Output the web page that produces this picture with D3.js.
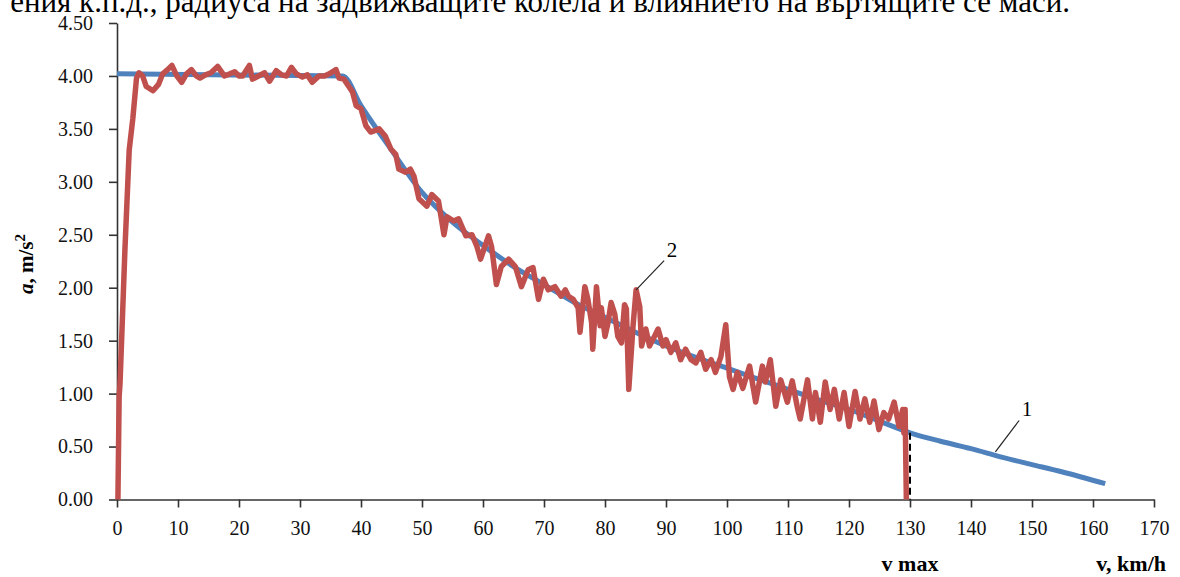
<!DOCTYPE html>
<html>
<head>
<meta charset="utf-8">
<script src="https://cdn.jsdelivr.net/npm/d3@7"></script>
<style>
  body { margin: 0; background: #fff; }
  svg { display: block; }
</style>
</head>
<body>
<div id="chart"></div>
<script>
// curve 1 - calculated acceleration
const calcV = [0, 37, 40, 45, 50, 55, 60, 65, 70, 75, 80, 85, 90, 95, 100, 105, 110, 115, 120, 125, 130, 135, 140, 145, 150, 155, 162];
const calcA = [4.02, 4.00, 3.72, 3.30, 2.90, 2.62, 2.40, 2.20, 2.03, 1.86, 1.72, 1.58, 1.45, 1.34, 1.24, 1.14, 1.04, 0.94, 0.85, 0.74, 0.63, 0.55, 0.48, 0.40, 0.33, 0.26, 0.15];

// curve 2 - measured acceleration
const measV = [0.15, 0.35, 0.5, 1.3, 2.0, 2.6, 3.2, 3.6, 4.2, 4.8, 5.9, 6.8, 7.5, 8.3, 9.0, 9.8, 10.6, 11.4, 12.2, 13.0,
  13.6, 14.5, 15.4, 16.5, 17.6, 18.5, 19.3, 20.0, 20.6, 21.7, 22.2, 23.2, 24.2, 25.0, 26.1, 27.0, 27.8, 28.6, 29.4, 30.4,
  31.2, 32.0, 33.1, 34.0, 34.8, 35.9, 36.4, 37.2, 38.0, 38.6, 39.2, 40.0, 40.8, 41.6, 43.0, 44.0, 44.9, 45.7, 46.2, 47.3,
  48.1, 48.7, 49.5, 50.8, 51.6, 52.7, 53.6, 54.1, 55.2, 56.0, 57.2, 58.2, 59.0, 59.6, 60.9, 61.4, 62.2, 63.0, 64.2, 65.3,
  66.3, 67.4, 68.2, 69.1, 69.9, 70.7, 71.8, 72.8, 73.5, 74.0, 74.8, 75.6, 75.9, 76.7, 77.2, 77.8, 78.0, 78.6, 79.2, 79.4,
  80.0, 80.5, 81.0, 81.6, 82.1, 82.7, 83.2, 83.5, 83.9, 84.6, 85.1, 85.7, 86.0, 86.7, 87.3, 88.1, 88.7, 89.5, 90.0, 90.8,
  91.6, 92.4, 93.2, 94.1, 94.9, 95.7, 96.5, 97.4, 98.1, 99.0, 99.8, 100.4, 101.0, 101.7, 102.6, 103.7, 104.7, 105.8, 106.3, 107.1,
  108.0, 108.8, 109.9, 110.7, 111.5, 112.0, 113.2, 114.0, 114.5, 115.3, 116.1, 116.9, 117.6, 118.4, 119.2, 120.0, 121.0, 121.8, 122.6, 123.4,
  124.1, 124.9, 125.7, 126.5, 127.4, 128.2, 128.8, 129.0, 129.2, 129.4];
const measA = [0, 0.97, 1.10, 2.36, 3.30, 3.60, 3.98, 4.03, 4.00, 3.90, 3.86, 3.92, 4.02, 4.06, 4.10, 4.00, 3.94, 4.02, 4.06, 4.00,
  3.98, 4.01, 4.03, 4.09, 4.00, 4.02, 4.04, 4.00, 4.00, 4.10, 3.97, 4.00, 4.03, 3.95, 4.05, 4.01, 4.00, 4.08, 4.02, 3.99,
  4.01, 3.94, 4.00, 4.00, 4.02, 4.06, 3.98, 3.97, 3.90, 3.85, 3.72, 3.69, 3.53, 3.47, 3.50, 3.43, 3.31, 3.26, 3.12, 3.09,
  3.12, 3.05, 2.84, 2.77, 2.88, 2.82, 2.50, 2.67, 2.63, 2.65, 2.49, 2.50, 2.39, 2.27, 2.49, 2.39, 2.03, 2.20, 2.27, 2.20,
  2.01, 2.17, 2.19, 1.89, 2.08, 1.98, 2.01, 1.92, 1.98, 1.92, 1.89, 1.81, 1.58, 2.01, 1.89, 1.67, 1.42, 2.01, 1.64, 1.81,
  1.54, 1.67, 1.86, 1.75, 1.54, 1.48, 1.84, 1.80, 1.04, 1.64, 1.98, 1.82, 1.45, 1.61, 1.45, 1.54, 1.61, 1.45, 1.51, 1.39,
  1.48, 1.32, 1.42, 1.32, 1.29, 1.39, 1.23, 1.32, 1.20, 1.35, 1.65, 1.16, 1.04, 1.20, 1.05, 1.26, 0.92, 1.26, 1.11, 1.32,
  0.88, 1.13, 0.92, 1.12, 0.88, 0.76, 1.13, 0.76, 1.01, 0.73, 1.11, 0.85, 1.04, 0.76, 1.01, 0.69, 1.02, 0.76, 0.95, 0.73,
  0.93, 0.66, 0.82, 0.76, 0.92, 0.69, 0.85, 0.63, 0.85, 0];

const xTicks = d3.range(0, 171, 10);
const yTicks = [0, 0.5, 1, 1.5, 2, 2.5, 3, 3.5, 4, 4.5];
const vMax = 130;

// curve labels: [text, label v, label a, tip v, tip a]
const curveLabels = [
  ["1", 149.2, 0.85, 144, 0.45],
  ["2", 91, 2.36, 85.1, 1.98]
];

const topText = "ения к.п.д., радиуса на задвижващите колела и влиянието на въртящите се маси.";

const width = 1180;
const height = 577;
const serif = "'Liberation Serif', 'Times New Roman', serif";

const svg = d3.select("#chart").append("svg")
  .attr("width", width)
  .attr("height", height);

const x = d3.scaleLinear().domain([0, 170]).range([117, 1154]);
const y = d3.scaleLinear().domain([0, 4.5]).range([499.5, 23]);

// caption line cut at the top of the image
svg.append("text")
  .attr("x", 1070)
  .attr("y", 12)
  .attr("text-anchor", "end")
  .attr("font-family", serif)
  .attr("font-size", 31)
  .attr("fill", "#000")
  .text(topText);

// axes
const yAxis = svg.append("g")
  .attr("transform", "translate(" + x(0) + ",0)")
  .call(d3.axisLeft(y).tickValues(yTicks).tickFormat(d3.format(".2f"))
    .tickSize(8).tickSizeOuter(0).tickPadding(16));

const xAxis = svg.append("g")
  .attr("transform", "translate(0," + y(0) + ")")
  .call(d3.axisBottom(x).tickValues(xTicks).tickFormat(d3.format("d"))
    .tickSize(8).tickSizeOuter(0).tickPadding(13));

[xAxis, yAxis].forEach(function(g) {
  g.selectAll("path, line").attr("stroke", "#333").attr("stroke-width", 1.6);
  g.selectAll("text")
    .attr("font-family", serif)
    .attr("font-size", 20)
    .attr("fill", "#111");
});

const calcData = calcV.map((v, i) => [v, calcA[i]]);
const measData = measV.map((v, i) => [v, measA[i]]);

// curve 1
svg.append("path")
  .datum(calcData)
  .attr("fill", "none")
  .attr("stroke", "#4F81BD")
  .attr("stroke-width", 5)
  .attr("stroke-linejoin", "round")
  .attr("d", d3.line().x(d => x(d[0])).y(d => y(d[1])).curve(d3.curveMonotoneX));

// v max marker
svg.append("line")
  .attr("x1", x(vMax)).attr("x2", x(vMax))
  .attr("y1", y(0.63)).attr("y2", y(0))
  .attr("stroke", "#000")
  .attr("stroke-width", 2)
  .attr("stroke-dasharray", "7,4");

// curve 2
svg.append("path")
  .datum(measData)
  .attr("fill", "none")
  .attr("stroke", "#C0504D")
  .attr("stroke-width", 5.5)
  .attr("stroke-linejoin", "round")
  .attr("d", d3.line().x(d => x(d[0])).y(d => y(d[1])));

// numbered leaders
const lab = svg.append("g");
lab.selectAll("line")
  .data(curveLabels)
  .join("line")
    .attr("x1", d => x(d[3]))
    .attr("y1", d => y(d[4]))
    .attr("x2", d => x(d[1]) - 8)
    .attr("y2", d => y(d[2]) + 11)
    .attr("stroke", "#222")
    .attr("stroke-width", 1.2);
lab.selectAll("text")
  .data(curveLabels)
  .join("text")
    .attr("x", d => x(d[1]))
    .attr("y", d => y(d[2]) + 7)
    .attr("text-anchor", "middle")
    .attr("font-family", serif)
    .attr("font-size", 21)
    .attr("fill", "#000")
    .text(d => d[0]);

// axis titles
const yTitle = svg.append("text")
  .attr("transform", "translate(33,264) rotate(-90)")
  .attr("text-anchor", "middle")
  .attr("font-family", serif)
  .attr("font-weight", "bold")
  .attr("font-size", 21)
  .attr("fill", "#000");
yTitle.append("tspan").attr("font-style", "italic").text("a");
yTitle.append("tspan").text(", m/s");
yTitle.append("tspan").attr("font-size", 15).attr("dy", -8).text("2");

svg.append("text")
  .attr("x", x(vMax))
  .attr("y", 571)
  .attr("text-anchor", "middle")
  .attr("font-family", serif)
  .attr("font-weight", "bold")
  .attr("font-size", 22)
  .attr("fill", "#000")
  .text("v  max");

svg.append("text")
  .attr("x", 1166)
  .attr("y", 571)
  .attr("text-anchor", "end")
  .attr("font-family", serif)
  .attr("font-weight", "bold")
  .attr("font-size", 22)
  .attr("fill", "#000")
  .text("v,  km/h");
</script>
</body>
</html>
